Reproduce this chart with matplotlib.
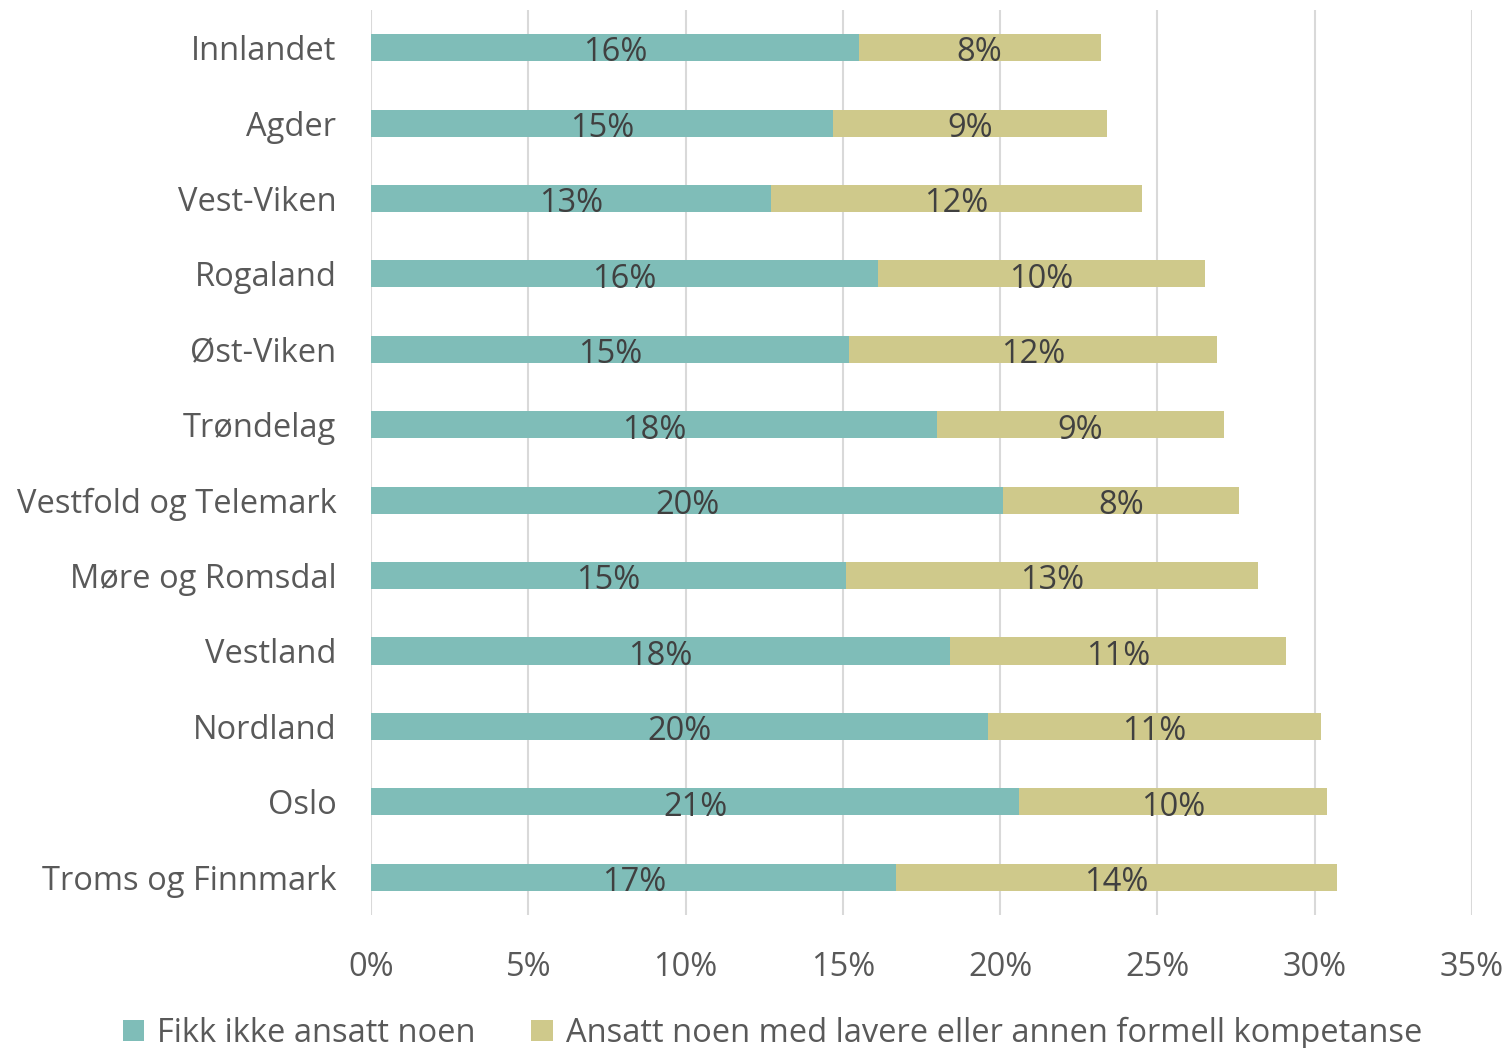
import matplotlib.pyplot as plt
import numpy as np

plt.rcParams['font.family'] = ['Open Sans', 'DejaVu Sans']

regioner = ['Innlandet', 'Agder', 'Vest-Viken', 'Rogaland', 'Øst-Viken', 'Trøndelag',
            'Vestfold og Telemark', 'Møre og Romsdal', 'Vestland', 'Nordland', 'Oslo',
            'Troms og Finnmark']
fikk_ikke = [15.5, 14.7, 12.7, 16.1, 15.2, 18.0, 20.1, 15.1, 18.4, 19.6, 20.6, 16.7]
lavere = [7.7, 8.7, 11.8, 10.4, 11.7, 9.1, 7.5, 13.1, 10.7, 10.6, 9.8, 14.0]
serier = ['Fikk ikke ansatt noen', 'Ansatt noen med lavere eller annen formell kompetanse']
farger = ['#7FBDB8', '#CFC98B']

fig = plt.figure(figsize=(15.09, 10.48), dpi=100)
ax = fig.add_axes([0.2459, 0.127, 0.7296, 0.8635])

y = np.arange(len(regioner))
b1 = ax.barh(y, fikk_ikke, height=0.36, color=farger[0], label=serier[0], zorder=2)
b2 = ax.barh(y, lavere, left=fikk_ikke, height=0.36, color=farger[1], label=serier[1], zorder=2)

for bars, vals in [(b1, fikk_ikke), (b2, lavere)]:
    for rect, v in zip(bars, vals):
        cx = rect.get_x() + rect.get_width() / 2
        ax.text(cx, rect.get_y() + rect.get_height() / 2 + 0.07, f'{int(v + 0.5)}%',
                ha='center', va='center', fontsize=23.5, color='#404040', zorder=3)

ax.set_xlim(0, 35)
ax.set_ylim(len(regioner) - 0.5, -0.5)
ax.set_yticks(y)
ax.set_yticklabels(regioner)
ax.set_xticks(np.arange(0, 36, 5))
ax.set_xticklabels([f'{t}%' for t in range(0, 36, 5)])
ax.tick_params(axis='both', length=0, labelsize=23.5, colors='#595959')
ax.tick_params(axis='y', pad=25)
ax.tick_params(axis='x', pad=26)
ax.grid(axis='x', color='#D9D9D9', linewidth=1.5, zorder=0)
for s in ax.spines.values():
    s.set_visible(False)

fig.legend(handles=[b1, b2], labels=serier, loc='lower center', bbox_to_anchor=(0.512, -0.03),
           ncol=2, frameon=False, fontsize=23.5, labelcolor='#595959', handlelength=0.65,
           handleheight=0.65, handletextpad=0.4, columnspacing=1.7)

fig.savefig('out.png', dpi=100)
